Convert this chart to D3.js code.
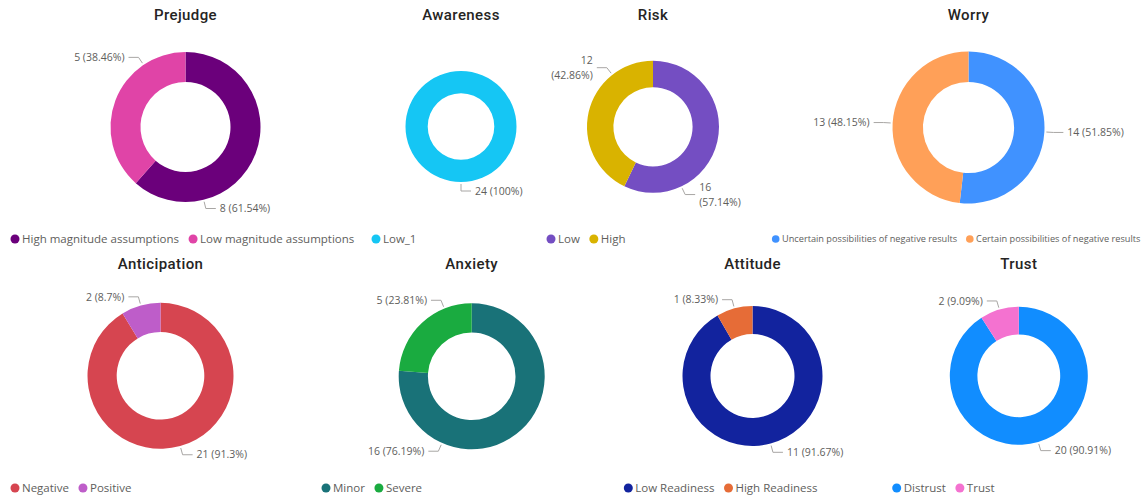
<!DOCTYPE html>
<html>
<head>
<meta charset="utf-8">
<script src="https://cdn.jsdelivr.net/npm/d3@7"></script>
<style>
  html, body { margin: 0; padding: 0; background: #ffffff; }
  svg { display: block; }
  .title { font-family: Roboto, "Open Sans", sans-serif; font-weight: 500; font-size: 15px; fill: #252423; letter-spacing: 0.4px; }
  .lbl { font-family: "Segoe UI", "Open Sans", sans-serif; font-size: 10.5px; fill: #605E5C; }
  .leg { font-family: "Segoe UI", "Open Sans", sans-serif; fill: #605E5C; }
  .leader { fill: none; stroke: #A8A6A4; stroke-width: 1; }
</style>
</head>
<body>
<svg id="chart" width="1142" height="498"></svg>
<script>
// ---- data ----
const titles = ["Prejudge", "Awareness", "Risk", "Worry", "Anticipation", "Anxiety", "Attitude", "Trust"];

const prejudgeCategories = ["High magnitude assumptions", "Low magnitude assumptions"];
const prejudgeValues = [8, 5];

const awarenessCategories = ["Low_1"];
const awarenessValues = [24];

const riskCategories = ["Low", "High"];
const riskValues = [16, 12];

const worryCategories = ["Uncertain possibilities of negative results", "Certain possibilities of negative results"];
const worryValues = [14, 13];

const anticipationCategories = ["Negative", "Positive"];
const anticipationValues = [21, 2];

const anxietyCategories = ["Minor", "Severe"];
const anxietyValues = [16, 5];

const attitudeCategories = ["Low Readiness", "High Readiness"];
const attitudeValues = [11, 1];

const trustCategories = ["Distrust", "Trust"];
const trustValues = [20, 2];

// ---- colours ----
const prejudgeColors = ["#6B007B", "#E044A7"];
const awarenessColors = ["#15C6F4"];
const riskColors = ["#744EC2", "#D9B300"];
const worryColors = ["#4092FF", "#FFA058"];
const anticipationColors = ["#D64550", "#BE5DC9"];
const anxietyColors = ["#197278", "#1AAB40"];
const attitudeColors = ["#12239E", "#E66C37"];
const trustColors = ["#118DFF", "#F472D0"];

const categoryLists = [prejudgeCategories, awarenessCategories, riskCategories, worryCategories,
  anticipationCategories, anxietyCategories, attitudeCategories, trustCategories];
const valueLists = [prejudgeValues, awarenessValues, riskValues, worryValues,
  anticipationValues, anxietyValues, attitudeValues, trustValues];
const colorLists = [prejudgeColors, awarenessColors, riskColors, worryColors,
  anticipationColors, anxietyColors, attitudeColors, trustColors];

// ---- panel layout: donut centre/radius, title & legend placement, label anchor angles (deg, null = slice middle) ----
const panels = [
  { cx: 185.5, cy: 127, r: 75, titleY: 16, legendX: 15, legendY: 239, legendSize: 11.5, dot: 4.5, angles: [166, 326], wrap: false },
  { cx: 461, cy: 126.5, r: 55.5, titleY: 16, legendX: 376, legendY: 239, legendSize: 11.5, dot: 4.5, angles: [180], wrap: false },
  { cx: 653, cy: 126.8, r: 66, titleY: 16, legendX: 551, legendY: 239, legendSize: 11.5, dot: 4.5, angles: [154.6, 322], wrap: true },
  { cx: 968.5, cy: 127.5, r: 76, titleY: 16, legendX: 775.7, legendY: 239, legendSize: 9.2, dot: 3.8, angles: [null, null], wrap: false },
  { cx: 160.5, cy: 375.8, r: 73, titleY: 265, legendX: 15, legendY: 488, legendSize: 11.5, dot: 4.5, angles: [null, null], wrap: false },
  { cx: 471.7, cy: 376.3, r: 73, titleY: 265, legendX: 326, legendY: 488, legendSize: 11.5, dot: 4.5, angles: [204, 338], wrap: false },
  { cx: 752.5, cy: 376, r: 70, titleY: 265, legendX: 628.3, legendY: 488, legendSize: 11.5, dot: 4.5, angles: [null, null], wrap: false },
  { cx: 1018.8, cy: 375.8, r: 69, titleY: 265, legendX: 896.7, legendY: 488, legendSize: 11.5, dot: 4.5, angles: [null, null], wrap: false }
];

const svg = d3.select("#chart");
const fmtPct = v => String(+v.toFixed(2));
const rad = deg => deg * Math.PI / 180;

panels.forEach((p, i) => {
  const cats = categoryLists[i];
  const vals = valueLists[i];
  const color = d3.scaleOrdinal().domain(cats).range(colorLists[i]);
  const total = d3.sum(vals);
  const data = cats.map((c, k) => ({ cat: c, value: vals[k] }));

  const pie = d3.pie().value(d => d.value).sort(null).startAngle(0).endAngle(2 * Math.PI);
  const arc = d3.arc().innerRadius(p.r * 0.6).outerRadius(p.r);
  const arcs = pie(data);

  const g = svg.append("g").attr("transform", `translate(${p.cx},${p.cy})`);

  // slices
  g.selectAll("path.slice").data(arcs).join("path")
    .attr("class", "slice")
    .attr("d", arc)
    .attr("fill", d => color(d.data.cat));

  // title
  svg.append("text").attr("class", "title")
    .attr("x", p.cx).attr("y", p.titleY)
    .attr("text-anchor", "middle").attr("dominant-baseline", "middle")
    .text(titles[i]);

  // data labels with leader lines
  arcs.forEach((a, k) => {
    const angDeg = p.angles[k] == null ? ((a.startAngle + a.endAngle) / 2) * 180 / Math.PI : p.angles[k];
    const t = rad(angDeg);
    const dx = Math.sin(t), dy = -Math.cos(t);
    const r0 = p.r + 2, r1 = p.r + 9;
    const side = dx >= 0 ? 1 : -1;
    const x0 = dx * r0, y0 = dy * r0;
    const x1 = dx * r1, y1 = dy * r1;
    const x2 = x1 + side * 10;
    g.append("path").attr("class", "leader")
      .attr("d", d3.line()([[x0, y0], [x1, y1], [x2, y1]]));

    const valueText = String(a.data.value);
    const pctText = "(" + fmtPct(a.data.value / total * 100) + "%)";
    const tx = x2 + side * 4;
    const anchor = side > 0 ? "start" : "end";
    if (p.wrap) {
      const txt = g.append("text").attr("class", "lbl").attr("text-anchor", anchor);
      txt.append("tspan").attr("x", tx).attr("y", y1 - 7.5).attr("dy", "0.35em").text(valueText);
      txt.append("tspan").attr("x", tx).attr("y", y1 + 7.5).attr("dy", "0.35em").text(pctText);
    } else {
      g.append("text").attr("class", "lbl").attr("text-anchor", anchor)
        .attr("x", tx).attr("y", y1).attr("dy", "0.35em")
        .text(valueText + " " + pctText);
    }
  });

  // legend
  let lx = p.legendX;
  cats.forEach(c => {
    svg.append("circle").attr("cx", lx).attr("cy", p.legendY).attr("r", p.dot).attr("fill", color(c));
    const t = svg.append("text").attr("class", "leg")
      .attr("x", lx + p.dot + 2.5).attr("y", p.legendY).attr("dy", "0.35em")
      .style("font-size", p.legendSize + "px")
      .text(c);
    lx = lx + p.dot + 2.5 + t.node().getComputedTextLength() + (p.dot * 2 + 5);
  });
});
</script>
</body>
</html>
